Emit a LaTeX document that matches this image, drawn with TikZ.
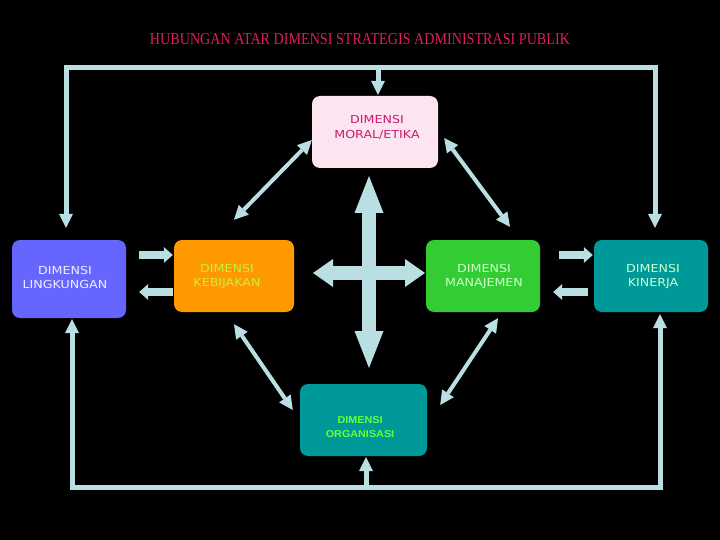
\documentclass[tikz,border=0pt]{standalone}
\usepackage{fontspec}
\usetikzlibrary{arrows.meta}
\newfontfamily\boxfont[FakeStretch=1.15]{DejaVu Sans}
\newfontfamily\orgfont[FakeStretch=1.08]{Liberation Sans}
\newfontfamily\titlefont{Liberation Serif}
\definecolor{arrowc}{HTML}{BADFE2}
\definecolor{titlec}{HTML}{E31B5F}
\definecolor{morfill}{HTML}{FDE4F1}
\definecolor{mortext}{HTML}{C81E6E}
\definecolor{lingfill}{HTML}{6666FF}
\definecolor{lingtext}{HTML}{EEEEFF}
\definecolor{kebfill}{HTML}{FF9900}
\definecolor{kebtext}{HTML}{C8F03C}
\definecolor{manfill}{HTML}{33CC33}
\definecolor{mantext}{HTML}{CCFFCC}
\definecolor{kinfill}{HTML}{009999}
\definecolor{kintext}{HTML}{CCFFCC}
\definecolor{orgfill}{HTML}{009999}
\definecolor{orgtext}{HTML}{66FF33}
\tikzset{
  box/.style={rounded corners=8pt, inner sep=0pt, draw=none},
  boxtext/.style={inner sep=0pt, align=center, font=\boxfont\fontsize{11pt}{14pt}\selectfont},
  looppath/.style={draw=arrowc, line width=5pt},
  >={Triangle[width=14pt,length=14pt,line width=0pt]},
  diag/.style={draw=arrowc, line width=4pt, {Triangle[width=14pt,length=14pt,line width=0pt]}-{Triangle[width=14pt,length=14pt,line width=0pt]}},
  blk/.style={draw=arrowc, line width=8pt, -{Triangle[width=16pt,length=9pt,line width=0pt]}},
  crossv/.style={draw=arrowc, line width=14pt, {Triangle[width=29pt,length=37pt,line width=0pt]}-{Triangle[width=29pt,length=37pt,line width=0pt]}},
  crossh/.style={draw=arrowc, line width=14pt, {Triangle[width=28pt,length=20pt,line width=0pt]}-{Triangle[width=28pt,length=20pt,line width=0pt]}}
}
\begin{document}
\begin{tikzpicture}[x=1pt,y=-1pt]
\fill[black] (0,0) rectangle (720,540);
\useasboundingbox (0,0) rectangle (720,540);

% title
\node[inner sep=0pt, text=titlec] (title) at (360,39)
  {\resizebox{420pt}{11pt}{\titlefont HUBUNGAN ATAR DIMENSI STRATEGIS ADMINISTRASI PUBLIK}};

% boxes
\node[box, fill=morfill, minimum width=126pt, minimum height=72pt] (moral) at (375,132) {};
\node[boxtext, text=mortext, font=\boxfont\fontsize{11pt}{15pt}\selectfont] (moralt) at (377,127) {DIMENSI\\MORAL/ETIKA};

\node[box, fill=lingfill, minimum width=114pt, minimum height=78pt] (ling) at (69,279) {};
\node[boxtext, text=lingtext] (lingt) at (65,277) {DIMENSI\\LINGKUNGAN};

\node[box, fill=kebfill, minimum width=120pt, minimum height=72pt] (keb) at (234,276) {};
\node[boxtext, text=kebtext] (kebt) at (227,277) {DIMENSI\\KEBIJAKAN};

\node[box, fill=manfill, minimum width=114pt, minimum height=72pt] (man) at (483,276) {};
\node[boxtext, text=mantext] (mant) at (484,277) {DIMENSI\\MANAJEMEN};

\node[box, fill=kinfill, minimum width=114pt, minimum height=72pt] (kin) at (651,276) {};
\node[boxtext, text=kintext] (kint) at (653,277) {DIMENSI\\KINERJA};

\node[box, fill=orgfill, minimum width=127pt, minimum height=72pt] (org) at (363.5,420) {};
\node[inner sep=0pt, align=center, text=orgtext, font=\orgfont\bfseries\fontsize{10pt}{14pt}\selectfont] (orgt) at (360,427) {DIMENSI\\ORGANISASI};

% top loop
\coordinate (tl) at (66,68);
\coordinate (tr) at (655,68);
\coordinate (tm) at (378,68);
\draw[looppath,<->,shorten <=12pt,shorten >=12pt] (tl |- ling.north) -- (tl) -- (tr) -- (tr |- kin.north);
\draw[looppath,->,shorten >=1pt] (tm) -- (tm |- moral.north);

% bottom loop
\coordinate (bl) at (72,487);
\coordinate (br) at (660,487);
\coordinate (bm) at (366,487);
\draw[looppath,<->,shorten <=1pt,shorten >=2pt] (bl |- ling.south) -- (bl) -- (br) -- (br |- kin.south);
\draw[looppath,->,shorten >=1pt] (bm) -- (bm |- org.south);

% block arrows between side boxes
\coordinate (ya) at (0,255);
\coordinate (yb) at (0,292);
\draw[blk,shorten <=13pt,shorten >=1pt] (ling.east |- ya) -- (keb.west |- ya);
\draw[blk,shorten <=1pt,shorten >=13pt] (keb.west |- yb) -- (ling.east |- yb);
\draw[blk,shorten <=19pt,shorten >=1pt] (man.east |- ya) -- (kin.west |- ya);
\draw[blk,shorten <=6pt,shorten >=13pt] (kin.west |- yb) -- (man.east |- yb);

% diagonal double arrows
\draw[diag] ([yshift=20pt]keb.north) -- ([yshift=-8pt]moral.west);
\draw[diag] ([xshift=6pt,yshift=-6pt]moral.east) -- ([xshift=27pt,yshift=13pt]man.north);
\draw[diag] ([yshift=-12pt]keb.south) -- ([xshift=-7pt,yshift=10pt]org.west);
\draw[diag] ([xshift=15pt,yshift=-6pt]man.south) -- ([xshift=13pt,yshift=15pt]org.east);

% central cross
\coordinate (cxc) at (369,273);
\draw[crossv] ([yshift=97pt]cxc) -- ([yshift=-95pt]cxc);
\draw[crossh] ([xshift=-56pt]cxc) -- ([xshift=56pt]cxc);
\end{tikzpicture}
\end{document}
